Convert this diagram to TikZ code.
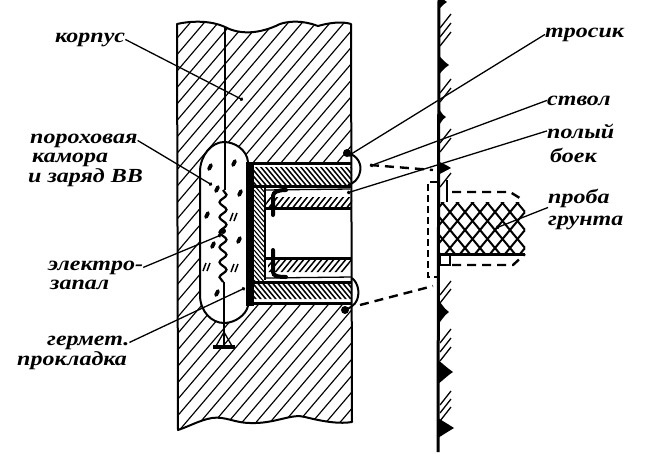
\documentclass[tikz,border=0pt]{standalone}
\usepackage{fontspec}
\setmainfont[FakeStretch=1.2]{Liberation Serif}
\usetikzlibrary{arrows.meta,decorations.pathmorphing}
\def\bodypath{(177,24) .. controls (190,21) and (210,20) .. (225,27) .. controls (240,35) and (260,34) .. (280,24) .. controls (295,19) and (310,23) .. (318,26) .. controls (328,23) and (342,21) .. (351,24) -- (352,422) .. controls (340,424) and (325,422) .. (305,417) .. controls (292,413) and (275,424) .. (250,423) .. controls (235,423) and (225,416) .. (212,418) .. controls (200,420) and (190,426) .. (178,430) -- cycle}
\def\chamberpath{(200,172) .. controls (200,155) and (212,142) .. (224,142) .. controls (235,142) and (247,150) .. (248,162) -- (248,306) .. controls (246,315) and (235,323) .. (224,323) .. controls (212,323) and (200,312) .. (200,295) -- cycle}
\begin{document}
\begin{tikzpicture}[x=1pt,y=-1pt,
    lbl/.style={anchor=base west, inner sep=0pt, font=\fontsize{20}{22}\selectfont\bfseries\itshape},
    outline/.style={line width=2pt, line join=round},
    hatchline/.style={line width=1.15pt},
    fineline/.style={line width=1.3pt},
    heavy/.style={line width=3pt},
    leader/.style={line width=1.3pt, -{Circle[length=3.5pt]}},
    dashline/.style={line width=2.4pt, dash pattern=on 9pt off 6pt},
    bracket/.style={line width=1.4pt, dash pattern=on 7pt off 4pt},
    grain/.style={line width=3.8pt, line cap=round},
    blob/.style={fill=black}]
  \useasboundingbox (0,0) rectangle (646,459);
  % housing
  \begin{scope}
    \clip \bodypath;
    \foreach \x in {-210,-196,...,350}
      \draw[hatchline] (\x,460) -- ++(400,-470);
  \end{scope}
  \fill[white] \chamberpath;
  \fill[white] (254,163) rectangle (352,303);
  \draw[outline] \bodypath;
  \draw[outline] \chamberpath;
  \draw[outline] (225,27) -- (225,190);
  \draw[outline] (224,282) -- (224,347);
  \draw[fineline] (224,332) -- (216,346) (224,332) -- (232,346);
  \draw[line width=4.5pt] (213,347) -- (235,347);
  \draw[line width=2.2pt, decorate, decoration={snake, segment length=15pt, amplitude=3.5pt}] (223,190) -- (223,282);
  \fill[blob] (223,231) circle (3pt);
  \foreach \x/\y in {210/167, 234/163, 217/189, 240/193, 207/215, 239/240, 213/245, 217/293}
    \draw[grain] (\x-1,\y+2) -- (\x+1,\y-2);
  \foreach \x/\y in {234/217, 207/267, 235/268}
    \draw[line width=1.5pt] (\x-4,\y+4) -- (\x-1,\y-4) (\x,\y+4) -- (\x+3,\y-4);
  % barrel
  \begin{scope}
    \clip (254,167) rectangle (352,185) (254,284) rectangle (352,299);
    \foreach \x in {230,235,...,370}
      \draw[line width=1.5pt] (\x,160) -- ++(25,30) (\x,280) -- ++(25,30);
  \end{scope}
  \begin{scope}
    \clip (268,197) -- (352,197) -- (352,207) -- (265,207) -- cycle (268,260) -- (352,260) -- (345,272) -- (268,272) -- cycle;
    \foreach \x in {255,261,...,360}
      \draw[line width=1.5pt] (\x,210) -- ++(12,-15) (\x,275) -- ++(14,-17);
  \end{scope}
  \begin{scope}
    \clip (254,188) -- (265,188) -- (265,280) -- (254,280) -- cycle;
    \foreach \y in {170,175,...,290}
      \draw[line width=1.1pt] (254,\y) -- ++(12,14);
  \end{scope}
  \fill[blob] (246,162) rectangle (254,306);
  \draw[heavy] (254,163) -- (352,163) (254,186) -- (352,186);
  \draw[heavy] (254,282) -- (352,282) (254,303) -- (352,303);
  \draw[heavy] (265,208) -- (352,208) (265,258) -- (352,258);
  \draw[fineline] (265,190) -- (350,189) (265,278) -- (352,277);
  \draw[fineline] (265,188) -- (265,280);
  \draw[line width=4pt, line cap=round] (273,215) -- (273,196) .. controls (273,192) and (278,190) .. (286,190);
  \draw[line width=4pt, line cap=round] (273,250) -- (273,272) .. controls (273,276) and (278,277) .. (286,277);
  \draw[outline] (347,153) .. controls (358,155) and (362,165) .. (360,172) .. controls (358,180) and (354,183) .. (348,185);
  \draw[outline] (352,278) .. controls (358,283) and (360,292) .. (357,300) .. controls (355,305) and (350,308) .. (345,310);
  \fill[blob] (347,153) circle (4pt);
  \fill[blob] (345,310) circle (4pt);
  % wall
  \draw[line width=3pt] (439,0) -- (438,452);
  \foreach \y/\h/\w in {2/8/9, 65/10/11, 117/9/8, 168/7/13, 312/12/11, 372/12/15, 428/10/16}
    \fill[blob] (438,\y-\h) .. controls (441,\y-\h+2) and (\w+438-6,\y-4) .. (\w+438,\y) .. controls (\w+438-5,\y+3) and (441,\y+\h-2) .. (438,\y+\h) -- cycle;
  \foreach \y in {21,30,39,86,95,136,145,180,288,296,336,345,354,398,406,414}
    \draw[fineline] (440,\y+7) -- (451,\y-7);
  % probe
  \begin{scope}
    \clip (440,202) rectangle (525,254);
    \foreach \x in {380,395,...,540} {
      \draw[line width=2pt] (\x,260) -- ++(50,-60);
      \draw[line width=2pt] (\x,200) -- ++(50,60);
    }
  \end{scope}
  \draw[heavy] (440,254) -- (525,254);
  \draw[fineline] (447,180) -- (447,202) (440,255) rectangle (450,265);
  \draw[dashline] (452,192) -- (510,192) -- (523,200);
  \draw[dashline] (452,265) -- (513,265) -- (525,254);
  \draw[bracket] (437,182) -- (428,182) -- (428,277) -- (437,277);
  \draw[dashline] (370,165) -- (433,170);
  \draw[dashline] (360,305) -- (433,286);
  % labels
  \node[lbl] (korp) at (55,42) {корпус};
  \node[lbl] (por1) at (30,143) {пороховая};
  \node[lbl] (por2) at (32,162) {камора};
  \node[lbl] (por3) at (28,182) {и заряд ВВ};
  \node[lbl] (el1) at (48,270) {электро-};
  \node[lbl] (el2) at (50,289) {запал};
  \node[lbl] (ger1) at (47,345) {гермет.};
  \node[lbl] (ger2) at (17,365) {прокладка};
  \node[lbl] (tros) at (545,37) {тросик};
  \node[lbl] (stv) at (547,105) {ствол};
  \node[lbl] (pol1) at (547,138) {полый};
  \node[lbl] (pol2) at (550,162) {боек};
  \node[lbl] (pro1) at (548,203) {проба};
  \node[lbl] (pro2) at (548,225) {грунта};
  \coordinate (tkorp) at (243,100);
  \coordinate (tpor) at (212,185);
  \coordinate (tel) at (221,235);
  \coordinate (tger) at (245,288);
  \coordinate (ttros) at (348,156);
  \coordinate (tstv) at (370,166);
  \coordinate (tpol) at (347,193);
  \coordinate (tpro) at (496,228);
  \foreach \source/\dest in {korp.east/tkorp, por1.east/tpor, el1.east/tel, ger1.east/tger, tros.west/ttros, stv.west/tstv, pol1.west/tpol, pro1.south west/tpro}
    \path[leader] (\source) edge (\dest);
\end{tikzpicture}
\end{document}
